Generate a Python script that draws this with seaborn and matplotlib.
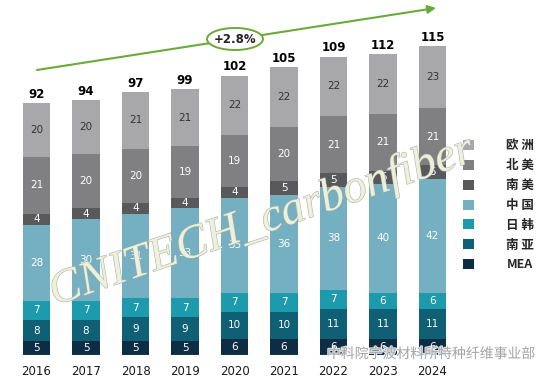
import matplotlib
matplotlib.use("Agg")
import matplotlib.pyplot as plt
import matplotlib.patheffects as pe
from matplotlib.patches import Patch, Ellipse
import pandas as pd
import seaborn as sns

# data (bottom segment first)
years = ["2016", "2017", "2018", "2019", "2020", "2021", "2022", "2023", "2024"]
regions = ["MEA", "南 亚", "日 韩", "中 国", "南 美", "北 美", "欧 洲"]
mea = [5, 5, 5, 5, 6, 6, 6, 6, 6]
south_asia = [8, 8, 9, 9, 10, 10, 11, 11, 11]
japan_korea = [7, 7, 7, 7, 7, 7, 7, 6, 6]
china = [28, 30, 31, 33, 35, 36, 38, 40, 42]
south_america = [4, 4, 4, 4, 4, 5, 5, 5, 5]
north_america = [21, 20, 20, 19, 19, 20, 21, 21, 21]
europe = [20, 20, 21, 21, 22, 22, 22, 22, 23]
totals = [92, 94, 97, 99, 102, 105, 109, 112, 115]
cagr_label = "+2.8%"

colors = ["#0d2d45", "#0f5f75", "#1d9aab", "#74b0c2", "#59595b", "#808083", "#a8a8aa"]
label_colors = ["white"] * 6 + ["#333333"]

series = [mea, south_asia, japan_korea, china, south_america, north_america, europe]
df = pd.DataFrame(dict(zip(regions, series)), index=years)
cum = df.cumsum(axis=1)

sns.set_style("white")
plt.rcParams["font.family"] = ["DejaVu Sans", "Noto Sans CJK SC"]

W, H = 554, 380
fig = plt.figure(figsize=(W / 100, H / 100), dpi=100)
# axes placed in pixel terms: baseline 25px from bottom, bar centres 36.5 + 49.5*i
ax = fig.add_axes([0, 25 / H, 450 / W, (H - 25) / H])

# stacked bars: draw cumulative heights from the top layer down
for i in range(len(regions) - 1, -1, -1):
    sns.barplot(x=years, y=cum.iloc[:, i].values, color=colors[i], width=0.55,
                saturation=1, linewidth=0, ax=ax, order=years)

ax.set_xlim(-36.5 / 49.5, (450 - 36.5) / 49.5)
px_per_unit = 312 / 115
ax.set_ylim(0, (H - 25) / px_per_unit)
ax.axhline(0, color="#d9d9d9", lw=0.8, xmin=0.02, xmax=1)

# segment labels and totals
for j, yr in enumerate(years):
    for i, reg in enumerate(regions):
        v = df.iloc[j, i]
        mid = cum.iloc[j, i] - v / 2
        ax.text(j, mid, str(v), ha="center", va="center", fontsize=7.5,
                color=label_colors[i])
    ax.text(j, cum.iloc[j, -1] + 0.8, str(totals[j]), ha="center", va="bottom",
            fontsize=8.5, fontweight="bold", color="black")

sns.despine(ax=ax, left=True, bottom=True)
ax.set_yticks([])
ax.set_xlabel("")
ax.set_ylabel("")
ax.tick_params(axis="x", length=0, pad=7, labelsize=8.5, labelcolor="#1a1a1a")

# overlay axes in pixel coords for arrow, legend, watermarks
ax_f = fig.add_axes([0, 0, 1, 1], facecolor="none")
ax_f.set_xlim(0, W)
ax_f.set_ylim(H, 0)
ax_f.axis("off")

green = "#6aaa3a"
ax_f.annotate("", xy=(436, 8), xytext=(37, 70),
              arrowprops=dict(arrowstyle="-|>", color=green, lw=1.5,
                              mutation_scale=12, shrinkA=0, shrinkB=0))
ax_f.add_patch(Ellipse((235, 39), 56, 22, facecolor="white", edgecolor=green, lw=1.4, zorder=5))
ax_f.text(235, 39.5, cagr_label, ha="center", va="center", fontsize=8.5,
          fontweight="bold", color="#222222", zorder=6)

# legend
handles = [Patch(facecolor=colors[i], edgecolor="none") for i in range(len(regions) - 1, -1, -1)]
labels = regions[::-1]
ax_f.legend(handles, labels, loc="upper left", bbox_to_anchor=(452 / W, 1 - 128 / H),
            frameon=False, handlelength=0.85, handleheight=0.85,
            handletextpad=2.6, labelspacing=0.55,
            prop={"family": ["Noto Sans CJK SC"], "weight": "bold", "size": 9})

# watermarks
ax_f.text(262, 222, "CNITECH_carbonfiber", ha="center", va="center", rotation=19,
          fontsize=34, style="italic", family="Liberation Serif", color="#eef2dc",
          alpha=0.9, zorder=7,
          path_effects=[pe.withStroke(linewidth=0.8, foreground="#a9ad9f")])
ax_f.text(431, 354, "中科院宁波材料所特种纤维事业部", ha="center", va="center",
          fontsize=10, family=["Noto Sans CJK SC"], color="#9a9a9a", alpha=0.85,
          zorder=7, path_effects=[pe.withStroke(linewidth=1.5, foreground="white")])

fig.savefig("out.png", dpi=100)
